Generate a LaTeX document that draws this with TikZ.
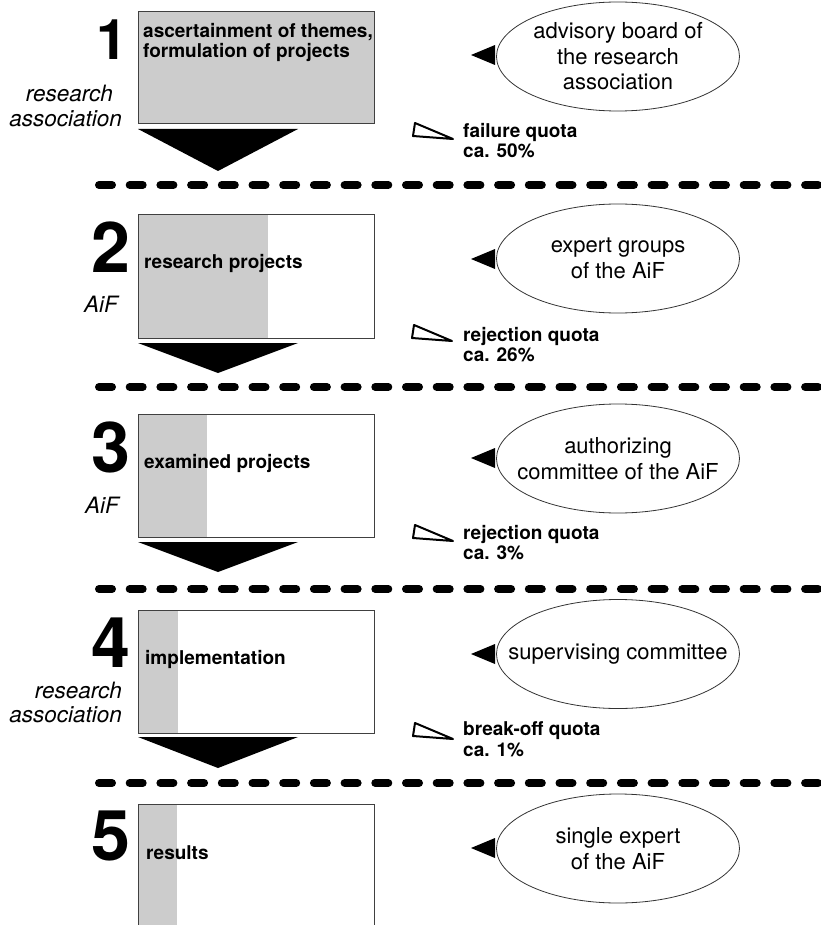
\documentclass[tikz,border=0pt]{standalone}
\usepackage{fontspec}
\setmainfont{TeX Gyre Heros}
\usetikzlibrary{shapes.geometric}
\begin{document}
\begin{tikzpicture}[x=1pt,y=-1pt,
  stagebox/.style={draw=black!75, line width=0.9pt, anchor=north west,
    minimum width=236pt, inner sep=0pt},
  halftone/.style={fill=black!20},
  boxtxt/.style={font=\bfseries\fontsize{19}{20}\selectfont, anchor=base west, inner sep=0pt},
  actor/.style={font=\itshape\fontsize{22.5}{24}\selectfont, anchor=base east, inner sep=0pt},
  stepnum/.style={font=\bfseries\fontsize{70}{70}\selectfont, anchor=base east, inner sep=0pt},
  council/.style={draw=black!80, line width=0.8pt, ellipse, minimum width=243pt,
    minimum height=109pt, inner sep=0pt},
  counciltxt/.style={font=\fontsize{22}{25.5}\selectfont, align=center, inner sep=0pt},
  sepline/.style={line width=8pt, line cap=round, dash pattern=on 13pt off 17.7pt},
  flowarrow/.style={fill=black},
  lefttri/.pic={\fill (0,0) -- (24,-10) -- (24,10) -- cycle;},
  losstri/.pic={\draw[line width=2pt, line join=round] (0,0) -- (-2,13) -- (38,16) -- cycle;}
]
\useasboundingbox (0,0) rectangle (820,925);

% ---------- stage 1 ----------
\fill[halftone] (138,11) rectangle (374,123);
\node[stagebox, minimum height=112pt] (b1) at (138,11) {};
\node[boxtxt] (b1a) at (143,38) {ascertainment of themes,};
\node[boxtxt] (b1b) at (143,58) {formulation of projects};
\node[font=\bfseries\fontsize{56}{56}\selectfont, anchor=base east, inner sep=0pt] (n1) at (128,60) {1};
\node[actor] (a1a) at (113,102) {research};
\node[actor] (a1b) at (122,127) {association};
\fill[flowarrow] (138,129) -- (298,129) -- (218,171) -- cycle;
\node[council] (e1) at (618,56.5) {};
\node[counciltxt] (e1t) at (e1.center) {advisory board of\\the research\\association};
\pic at (471,55) {lefttri};
\pic at (415,123) {losstri};
\node[boxtxt] (q1a) at (463,138) {failure quota};
\node[boxtxt] (q1b) at (463,158) {ca. 50\%};
\draw[sepline] (99,185) -- (830,185);

% ---------- stage 2 ----------
\fill[halftone] (138,214) rectangle (268,338);
\node[stagebox, minimum height=124pt] (b2) at (138,214) {};
\node[boxtxt] (b2a) at (144,268) {research projects};
\node[stepnum] (n2) at (131,272) {2};
\node[actor] (a2) at (118,312) {AiF};
\fill[flowarrow] (138,343) -- (298,343) -- (218,373) -- cycle;
\node[council] (e2) at (618,258.5) {};
\node[counciltxt] (e2t) at (e2.center) {expert groups\\of the AiF};
\pic at (471,259) {lefttri};
\pic at (414,325) {losstri};
\node[boxtxt] (q2a) at (463,341) {rejection quota};
\node[boxtxt] (q2b) at (463,361) {ca. 26\%};
\draw[sepline] (99,387) -- (830,387);

% ---------- stage 3 ----------
\fill[halftone] (138,414) rectangle (207,537);
\node[stagebox, minimum height=123pt] (b3) at (138,414) {};
\node[boxtxt] (b3a) at (144,468) {examined projects};
\node[stepnum] (n3) at (131,472) {3};
\node[actor] (a3) at (119,513) {AiF};
\fill[flowarrow] (138,542) -- (298,542) -- (218,572) -- cycle;
\node[council] (e3) at (618,458.5) {};
\node[counciltxt] (e3t) at (e3.center) {authorizing\\committee of the AiF};
\pic at (471,458) {lefttri};
\pic at (415,525) {losstri};
\node[boxtxt] (q3a) at (463,539) {rejection quota};
\node[boxtxt] (q3b) at (463,559) {ca. 3\%};
\draw[sepline] (99,589) -- (830,589);

% ---------- stage 4 ----------
\fill[halftone] (138,610) rectangle (178,733);
\node[stagebox, minimum height=123pt] (b4) at (138,610) {};
\node[boxtxt] (b4a) at (145,664) {implementation};
\node[stepnum] (n4) at (131,667) {4};
\node[actor] (a4a) at (122,698) {research};
\node[actor] (a4b) at (122,722) {association};
\fill[flowarrow] (138,737) -- (298,737) -- (218,768) -- cycle;
\node[council] (e4) at (618,654) {};
\node[counciltxt] (e4t) at (e4.center) {supervising committee};
\pic at (471,654) {lefttri};
\pic at (415,723) {losstri};
\node[boxtxt] (q4a) at (463,735) {break-off quota};
\node[boxtxt] (q4b) at (463,756) {ca. 1\%};
\draw[sepline] (99,783) -- (830,783);

% ---------- stage 5 ----------
\fill[halftone] (138,804) rectangle (177,940);
\node[stagebox, minimum height=136pt] (b5) at (138,804) {};
\node[boxtxt] (b5a) at (146,859) {results};
\node[stepnum] (n5) at (131,860) {5};
\node[council] (e5) at (618,848.5) {};
\node[counciltxt] (e5t) at (e5.center) {single expert\\of the AiF};
\pic at (471,848) {lefttri};
\end{tikzpicture}
\end{document}
